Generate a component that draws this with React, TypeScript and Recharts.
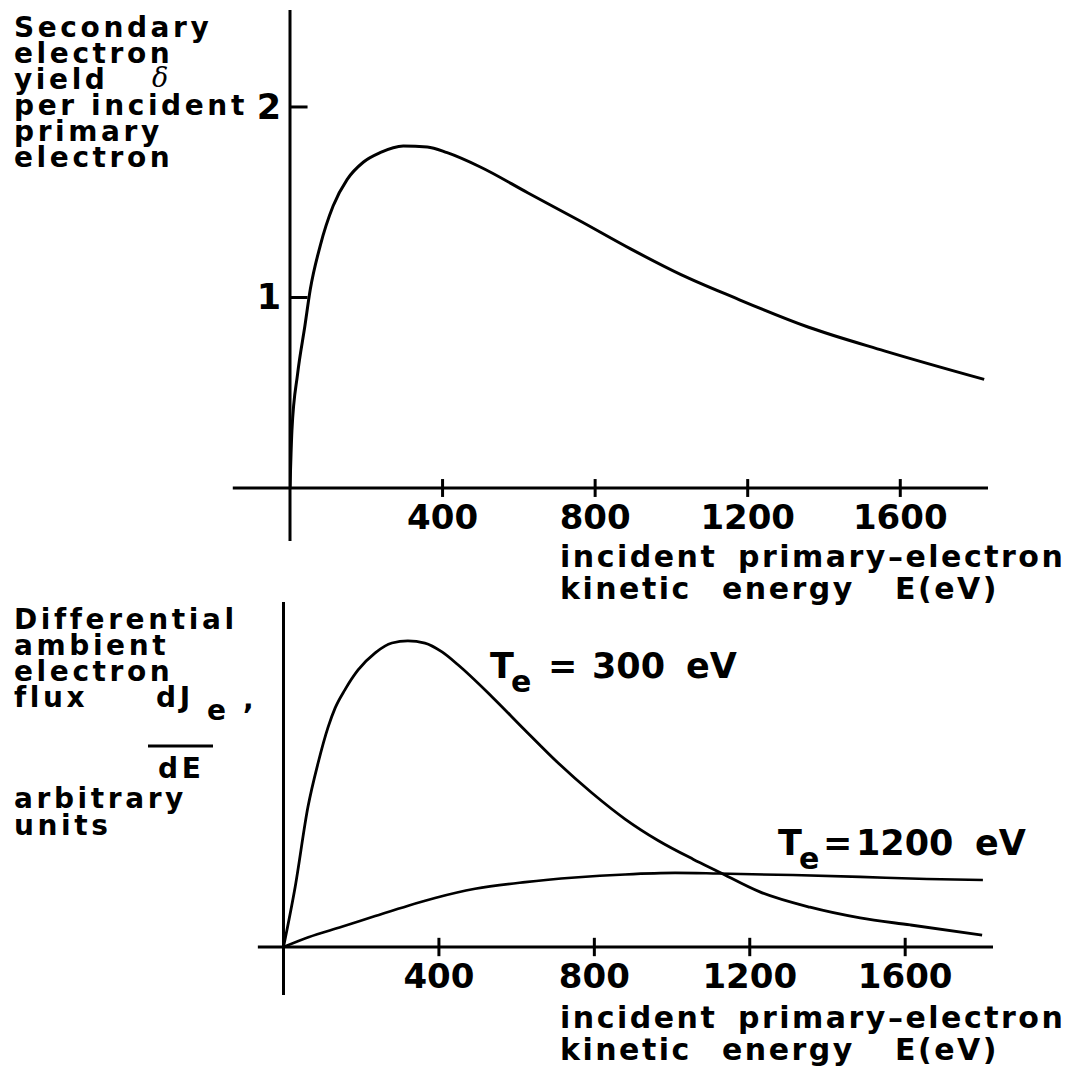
import React from 'react';
import { LineChart, Line, XAxis, YAxis, ReferenceLine } from 'recharts';

// ---------- data ----------
const energyTicks = [400, 800, 1200, 1600];
const yieldTicks = [1, 2];

const energyYield = [0, 5, 20, 39, 53, 79, 113, 150, 192, 236, 297, 360, 412, 499, 623, 762, 893, 1025, 1164, 1358, 1558, 1820];
const yieldDelta = [0, 0.3, 0.6, 0.85, 1.04, 1.27, 1.48, 1.62, 1.71, 1.76, 1.795, 1.79, 1.76, 1.685, 1.55, 1.4, 1.255, 1.12, 1.0, 0.845, 0.72, 0.57];

const energy300 = [0, 30, 63, 89, 115, 133, 158, 192, 236, 279, 320, 364, 408, 449, 537, 621, 707, 794, 879, 964, 1054, 1118, 1226, 1355, 1484, 1613, 1798];
const flux300 = [0, 0.196, 0.458, 0.601, 0.719, 0.781, 0.84, 0.905, 0.961, 0.993, 1.0, 0.993, 0.964, 0.922, 0.817, 0.709, 0.601, 0.503, 0.418, 0.348, 0.287, 0.247, 0.18, 0.13, 0.095, 0.072, 0.039];

const energy1200 = [0, 64, 150, 236, 321, 390, 493, 622, 750, 879, 1008, 1118, 1311, 1484, 1656, 1800];
const flux1200 = [0, 0.032, 0.066, 0.101, 0.135, 0.16, 0.19, 0.212, 0.227, 0.237, 0.242, 0.24, 0.235, 0.229, 0.222, 0.219];

const yieldTitleLines = ['Secondary', 'electron', 'yield', 'per incident', 'primary', 'electron'];
const fluxTitleLines = ['Differential', 'ambient', 'electron', 'flux'];
const fluxTitleTail = ['arbitrary', 'units'];
const axisTitleWords = [['incident', 'primary\u2013electron'], ['kinetic', 'energy', 'E(eV)']];
const curveLabels = ['300', '1200'];

const yieldData = energyYield.map((e, i) => ({ e, v: yieldDelta[i] }));
const data300 = energy300.map((e, i) => ({ e, v: flux300[i] }));
const data1200 = energy1200.map((e, i) => ({ e, v: flux1200[i] }));

// ---------- styles ----------
const FONT = '"DejaVu Sans", "Liberation Sans", Arial, sans-serif';
const INK = '#000';

const XTick = (props: any) => {
  const { x, y, payload } = props;
  return (
    <text x={x} y={y} dy={41} textAnchor="middle" fontFamily={FONT} fontWeight={700} fontSize={34} fill={INK}>
      {payload.value}
    </text>
  );
};

const YTick = (props: any) => {
  const { x, y, payload } = props;
  return (
    <text x={x} y={y} dx={-9} dy={12} textAnchor="end" fontFamily={FONT} fontWeight={700} fontSize={35} fill={INK}>
      {payload.value}
    </text>
  );
};

const titleStyle: React.CSSProperties = {
  fontFamily: FONT,
  fontWeight: 700,
  fontSize: 30,
  letterSpacing: 2.5,
  whiteSpace: 'pre',
  fill: INK,
};

const sideStyle: React.CSSProperties = {
  ...titleStyle,
  fontSize: 28,
  letterSpacing: 3.6,
};

const labelStyle: React.CSSProperties = {
  fontFamily: FONT,
  fontWeight: 700,
  fontSize: 35,
  whiteSpace: 'pre',
  fill: INK,
};

const AxisTitle = ({ top }: { top: number }) => (
  <text style={titleStyle}>
    <tspan x={560} y={top}>{axisTitleWords[0][0]}</tspan>
    <tspan x={738} y={top}>{axisTitleWords[0][1]}</tspan>
    <tspan x={560} y={top + 32}>{axisTitleWords[1][0]}</tspan>
    <tspan x={722} y={top + 32}>{axisTitleWords[1][1]}</tspan>
    <tspan x={895} y={top + 32}>{axisTitleWords[1][2]}</tspan>
  </text>
);

const yieldLineY = [37, 63, 89, 115, 141, 167];
const fluxLineY = [629, 655, 681, 707];
const fluxTailY = [808, 835];

export default function App() {
  return (
    <div style={{ position: 'absolute', left: 0, top: 0, width: 1074, height: 1073, background: '#fff', overflow: 'hidden' }}>
      {/* Top panel: secondary electron yield */}
      <div style={{ position: 'absolute', left: 0, top: 0 }}>
        <LineChart width={1074} height={560} data={yieldData} margin={{ top: 10, right: 86, bottom: 22, left: 233 }}>
          <XAxis dataKey="e" type="number" domain={[0, 1830]} ticks={energyTicks} axisLine={false} tickLine={false} tickSize={0} tickMargin={0} height={50} tick={<XTick />} interval={0} allowDataOverflow />
          <YAxis type="number" domain={[0, 2.509]} ticks={yieldTicks} axisLine={false} tickLine={false} tickSize={0} tickMargin={0} width={57} tick={<YTick />} interval={0} allowDataOverflow />
          <ReferenceLine segment={[{ x: -150, y: 0 }, { x: 1830, y: 0 }]} stroke={INK} strokeWidth={3} ifOverflow="visible" />
          <ReferenceLine segment={[{ x: 0, y: -0.278 }, { x: 0, y: 2.509 }]} stroke={INK} strokeWidth={3} ifOverflow="visible" />
          {energyTicks.map((t) => (
            <ReferenceLine key={'tx' + t} segment={[{ x: t, y: -0.047 }, { x: t, y: 0.047 }]} stroke={INK} strokeWidth={3} ifOverflow="visible" />
          ))}
          {yieldTicks.map((t) => (
            <ReferenceLine key={'ty' + t} segment={[{ x: 0, y: t }, { x: 46, y: t }]} stroke={INK} strokeWidth={3} ifOverflow="visible" />
          ))}
          <Line dataKey="v" type="monotone" stroke={INK} strokeWidth={3} dot={false} isAnimationActive={false} />
        </LineChart>
      </div>

      {/* Bottom panel: differential ambient electron flux */}
      <div style={{ position: 'absolute', left: 0, top: 560 }}>
        <LineChart width={1074} height={513} margin={{ top: 42, right: 81, bottom: 76, left: 283.5 }}>
          <XAxis dataKey="e" type="number" domain={[0, 1826]} ticks={energyTicks} axisLine={false} tickLine={false} tickSize={0} tickMargin={0} height={50} tick={<XTick />} interval={0} allowDataOverflow />
          <YAxis type="number" domain={[0, 1.127]} hide allowDataOverflow />
          <ReferenceLine segment={[{ x: -66, y: 0 }, { x: 1826, y: 0 }]} stroke={INK} strokeWidth={3} ifOverflow="visible" />
          <ReferenceLine segment={[{ x: 0, y: -0.157 }, { x: 0, y: 1.127 }]} stroke={INK} strokeWidth={3} ifOverflow="visible" />
          {energyTicks.map((t) => (
            <ReferenceLine key={'bx' + t} segment={[{ x: t, y: -0.03 }, { x: t, y: 0.03 }]} stroke={INK} strokeWidth={3} ifOverflow="visible" />
          ))}
          <Line data={data300} dataKey="v" type="monotone" stroke={INK} strokeWidth={2.8} dot={false} isAnimationActive={false} />
          <Line data={data1200} dataKey="v" type="monotone" stroke={INK} strokeWidth={2.6} dot={false} isAnimationActive={false} />
        </LineChart>
      </div>

      {/* Text overlay */}
      <svg width={1074} height={1073} style={{ position: 'absolute', left: 0, top: 0, pointerEvents: 'none' }}>
        {/* top-left y title (one multi-line text) */}
        <text style={sideStyle}>
          {yieldTitleLines.map((s, i) => (
            <tspan key={'yt' + i} x={14} y={yieldLineY[i]}>{s}</tspan>
          ))}
          <tspan x={152} y={87} fontFamily='"DejaVu Serif", "Liberation Serif", serif' fontStyle="italic" fontWeight={400} fontSize={27} letterSpacing={0}>δ</tspan>
        </text>

        {/* bottom-left y title (one multi-line text) */}
        <text style={sideStyle}>
          {fluxTitleLines.map((s, i) => (
            <tspan key={'ft' + i} x={14} y={fluxLineY[i]}>{s}</tspan>
          ))}
          <tspan x={156} y={707}>dJ</tspan>
          <tspan x={207} y={720}>e</tspan>
          <tspan x={243} y={709}>,</tspan>
          <tspan x={158} y={778}>dE</tspan>
          {fluxTitleTail.map((s, i) => (
            <tspan key={'fu' + i} x={14} y={fluxTailY[i]}>{s}</tspan>
          ))}
        </text>
        <line x1={148} y1={746} x2={213} y2={746} stroke={INK} strokeWidth={3} />

        {/* x axis titles */}
        <AxisTitle top={567} />
        <AxisTitle top={1028} />

        {/* curve labels */}
        <text style={labelStyle}>
          <tspan x={490} y={678}>T</tspan>
          <tspan x={511} y={692} fontSize={30}>e</tspan>
          <tspan x={548} y={678}>=</tspan>
          <tspan x={592} y={678}>{curveLabels[0]}</tspan>
          <tspan x={686} y={678}>eV</tspan>
        </text>
        <text style={labelStyle}>
          <tspan x={778} y={855}>T</tspan>
          <tspan x={799} y={869} fontSize={30}>e</tspan>
          <tspan x={823} y={855}>=</tspan>
          <tspan x={856} y={855}>{curveLabels[1]}</tspan>
          <tspan x={975} y={855}>eV</tspan>
        </text>
      </svg>
    </div>
  );
}
